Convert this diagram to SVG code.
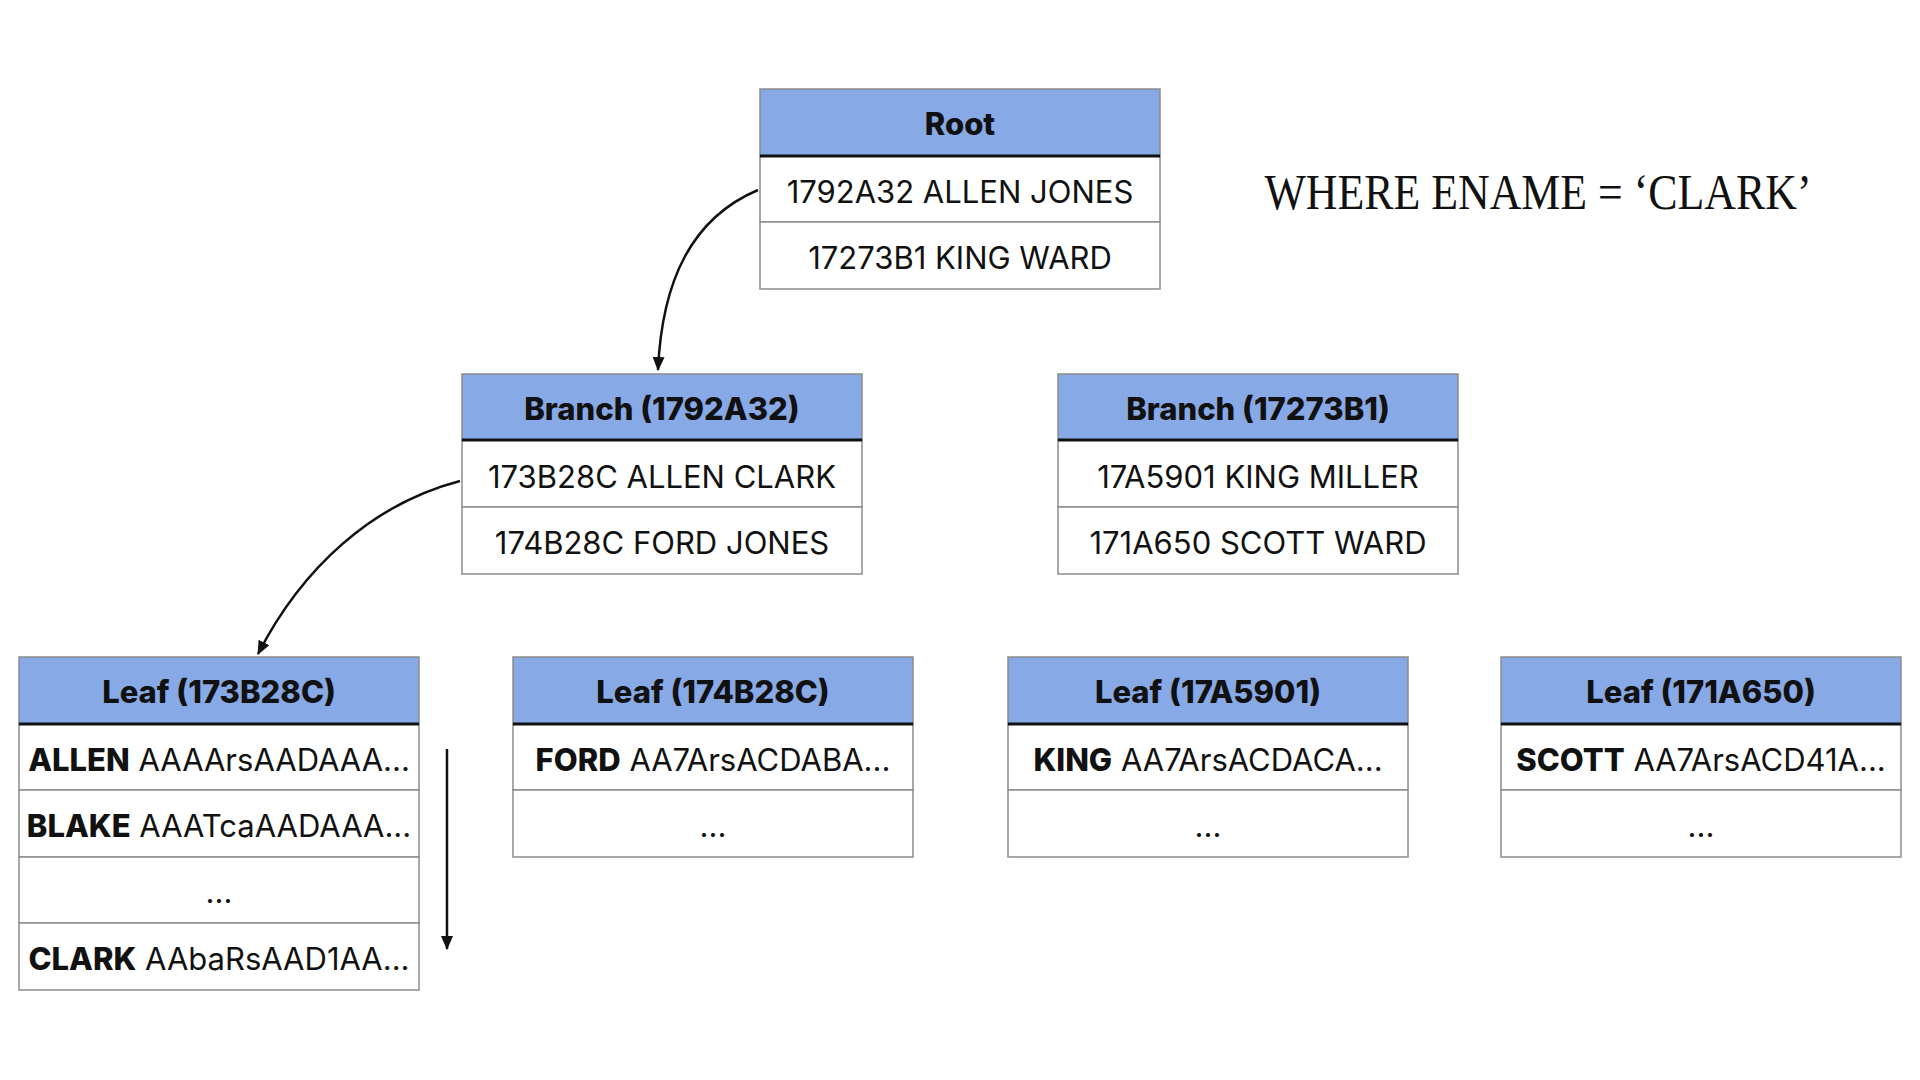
<svg xmlns="http://www.w3.org/2000/svg" width="1920" height="1080" viewBox="0 0 1920 1080">
<style>
.cell{fill:#ffffff;stroke:#8c8c8c;stroke-width:1.5}
.head{fill:#87a9e6;stroke:#8c8c8c;stroke-width:1.5}
.hline{stroke:#111;stroke-width:3}
.t{font-family:Inter,"Noto Sans","Liberation Sans",sans-serif;font-size:31px;fill:#111;text-anchor:middle}
.b{font-weight:800}
.conn{fill:none;stroke:#111;stroke-width:2.5}
.q{font-family:"Liberation Serif","DejaVu Serif",serif;font-size:50px;fill:#111;text-anchor:middle}
</style>
<defs>
<marker id="ah" markerUnits="userSpaceOnUse" markerWidth="14" markerHeight="12" refX="13" refY="6" orient="auto">
<path d="M0,0 L14,6 L0,12 z" fill="#111"/>
</marker>
</defs>
<rect width="1920" height="1080" fill="#ffffff"/>

<g id="root">
<rect class="head" x="760" y="89" width="400" height="67"/>
<rect class="cell" x="760" y="156" width="400" height="66"/>
<rect class="cell" x="760" y="222" width="400" height="67"/>
<line class="hline" x1="760" y1="156" x2="1160" y2="156"/>
<text class="t b" x="960" y="135">Root</text>
<text class="t" x="960" y="203">1792A32 ALLEN JONES</text>
<text class="t" x="960" y="269">17273B1 KING WARD</text>
</g>

<g id="branch1">
<rect class="head" x="462" y="374" width="400" height="66"/>
<rect class="cell" x="462" y="440" width="400" height="67"/>
<rect class="cell" x="462" y="507" width="400" height="67"/>
<line class="hline" x1="462" y1="440" x2="862" y2="440"/>
<text class="t b" x="662" y="420">Branch (1792A32)</text>
<text class="t" x="662" y="488">173B28C ALLEN CLARK</text>
<text class="t" x="662" y="554">174B28C FORD JONES</text>
</g>

<g id="branch2">
<rect class="head" x="1058" y="374" width="400" height="66"/>
<rect class="cell" x="1058" y="440" width="400" height="67"/>
<rect class="cell" x="1058" y="507" width="400" height="67"/>
<line class="hline" x1="1058" y1="440" x2="1458" y2="440"/>
<text class="t b" x="1258" y="420">Branch (17273B1)</text>
<text class="t" x="1258" y="488">17A5901 KING MILLER</text>
<text class="t" x="1258" y="554">171A650 SCOTT WARD</text>
</g>

<g id="leaf1">
<rect class="head" x="19" y="657" width="400" height="67"/>
<rect class="cell" x="19" y="724" width="400" height="66"/>
<rect class="cell" x="19" y="790" width="400" height="67"/>
<rect class="cell" x="19" y="857" width="400" height="66"/>
<rect class="cell" x="19" y="923" width="400" height="67"/>
<line class="hline" x1="19" y1="724" x2="419" y2="724"/>
<text class="t b" x="219" y="703">Leaf (173B28C)</text>
<text class="t" x="219" y="771"><tspan class="b">ALLEN</tspan> AAAArsAADAAA...</text>
<text class="t" x="219" y="837"><tspan class="b">BLAKE</tspan> AAATcaAADAAA...</text>
<text class="t" x="219" y="903">...</text>
<text class="t" x="219" y="970"><tspan class="b">CLARK</tspan> AAbaRsAAD1AA...</text>
</g>

<g id="leaf2">
<rect class="head" x="513" y="657" width="400" height="67"/>
<rect class="cell" x="513" y="724" width="400" height="66"/>
<rect class="cell" x="513" y="790" width="400" height="67"/>
<line class="hline" x1="513" y1="724" x2="913" y2="724"/>
<text class="t b" x="713" y="703">Leaf (174B28C)</text>
<text class="t" x="713" y="771"><tspan class="b">FORD</tspan> AA7ArsACDABA...</text>
<text class="t" x="713" y="837">...</text>
</g>

<g id="leaf3">
<rect class="head" x="1008" y="657" width="400" height="67"/>
<rect class="cell" x="1008" y="724" width="400" height="66"/>
<rect class="cell" x="1008" y="790" width="400" height="67"/>
<line class="hline" x1="1008" y1="724" x2="1408" y2="724"/>
<text class="t b" x="1208" y="703">Leaf (17A5901)</text>
<text class="t" x="1208" y="771"><tspan class="b">KING</tspan> AA7ArsACDACA...</text>
<text class="t" x="1208" y="837">...</text>
</g>

<g id="leaf4">
<rect class="head" x="1501" y="657" width="400" height="67"/>
<rect class="cell" x="1501" y="724" width="400" height="66"/>
<rect class="cell" x="1501" y="790" width="400" height="67"/>
<line class="hline" x1="1501" y1="724" x2="1901" y2="724"/>
<text class="t b" x="1701" y="703">Leaf (171A650)</text>
<text class="t" x="1701" y="771"><tspan class="b">SCOTT</tspan> AA7ArsACD41A...</text>
<text class="t" x="1701" y="837">...</text>
</g>

<g id="query">
<text class="q" x="1538" y="209" textLength="547" lengthAdjust="spacingAndGlyphs">WHERE ENAME = ‘CLARK’</text>
</g>

<g id="connectors">
<path class="conn" d="M758,190 C692,218 662,280 658,370" marker-end="url(#ah)"/>
<path class="conn" d="M460,481 C372,504 302,568 258,654" marker-end="url(#ah)"/>
<path class="conn" d="M447,749 L447,949" marker-end="url(#ah)"/>
</g>
</svg>
